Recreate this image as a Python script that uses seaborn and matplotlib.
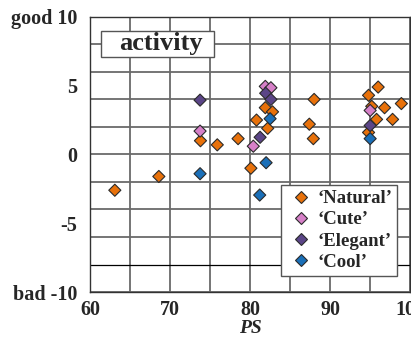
import matplotlib
matplotlib.use("Agg")
import matplotlib.pyplot as plt
import matplotlib.patches as mpatches
import seaborn as sns
import pandas as pd

# ---- data ----
natural_x = [63.1, 68.6, 73.8, 75.9, 78.5, 80.1, 80.8, 81.9, 82.8, 82.2, 88.0, 87.4, 87.9,
             94.8, 96.0, 95.2, 96.8, 98.9, 95.8, 97.8, 94.8]
natural_y = [-2.6, -1.6, 1.0, 0.7, 1.15, -1.0, 2.5, 3.4, 3.1, 1.9, 4.0, 2.2, 1.15,
             4.3, 4.9, 3.5, 3.4, 3.7, 2.55, 2.55, 1.6]
cute_x = [73.75, 80.4, 81.9, 82.6, 95.0]
cute_y = [1.7, 0.6, 4.95, 4.85, 3.2]
elegant_x = [73.75, 81.25, 81.95, 82.6, 95.0]
elegant_y = [3.95, 1.25, 4.45, 4.0, 2.1]
cool_x = [73.75, 81.2, 82.0, 82.5, 95.0]
cool_y = [-1.4, -2.95, -0.6, 2.6, 1.15]

categories = ["\u2018Natural\u2019", "\u2018Cute\u2019", "\u2018Elegant\u2019", "\u2018Cool\u2019"]
colors = ["#E8710A", "#D680C8", "#5B4587", "#1A6FB8"]
x_ticks = [60, 70, 80, 90, 100]
y_ticks = [10, 5, 0, -5, -10]
y_tick_labels = ["good 10", "5", "0", "-5", "bad -10"]

rows = []
for cat, xs, ys in zip(categories, [natural_x, cute_x, elegant_x, cool_x],
                       [natural_y, cute_y, elegant_y, cool_y]):
    for xv, yv in zip(xs, ys):
        rows.append({"PS": xv, "activity": yv, "group": cat})
df = pd.DataFrame(rows)

sns.set_style("white")
plt.rcParams["font.family"] = ["Liberation Serif", "DejaVu Serif"]

fig = plt.figure(figsize=(4.11, 3.38), dpi=100)
ax = fig.add_axes([0.219, 0.136, 0.779, 0.814])

# grid
for gx in range(60, 101, 5):
    ax.axvline(gx, color="#6a6a6a", lw=1.3, zorder=0)
for gy in range(-10, 11, 2):
    if gy == -8:
        ax.axhline(gy, color="black", lw=0.9, zorder=0)
    else:
        ax.axhline(gy, color="#6a6a6a", lw=1.3, zorder=0)

sns.scatterplot(data=df, x="PS", y="activity", hue="group", hue_order=categories,
                palette=colors, marker="D", s=38, edgecolor="#2a2a2a", linewidth=0.8,
                ax=ax, zorder=3, legend=True)

ax.set_xlim(60, 100)
ax.set_ylim(-10, 10)
ax.set_xticks(x_ticks)
ax.set_xticklabels([str(t) for t in x_ticks], fontsize=14.5, fontweight="bold")
ax.set_yticks(y_ticks)
ax.set_yticklabels(y_tick_labels, fontsize=14.5, fontweight="bold")
ax.tick_params(axis="x", length=0, pad=6)
ax.tick_params(axis="y", length=0, pad=9)
ax.set_xlabel("PS", fontsize=14, fontweight="bold", fontstyle="italic", labelpad=0)
ax.set_ylabel("")
for sp in ax.spines.values():
    sp.set_color("#333333")
    sp.set_linewidth(1.0)

# "activity" title box
ax.add_patch(mpatches.Rectangle((0.034, 0.8545), 0.353, 0.0945, transform=ax.transAxes,
                                fc="white", ec="#555555", lw=1.0, zorder=5))
ax.text(0.222, 0.903, "activity", transform=ax.transAxes, fontsize=19, fontweight="bold",
        ha="center", va="center", zorder=6)

leg = ax.legend(loc="lower right", bbox_to_anchor=(0.96, 0.06), frameon=True,
                fancybox=False, edgecolor="#555555", framealpha=1,
                prop={"family": "Liberation Serif", "weight": "bold", "size": 13.5},
                handletextpad=0.1, labelspacing=0.22, borderpad=0.25, handlelength=1.6,
                borderaxespad=0)
leg.get_frame().set_linewidth(1.0)
leg.set_zorder(6)

fig.savefig("out.png", dpi=100)
